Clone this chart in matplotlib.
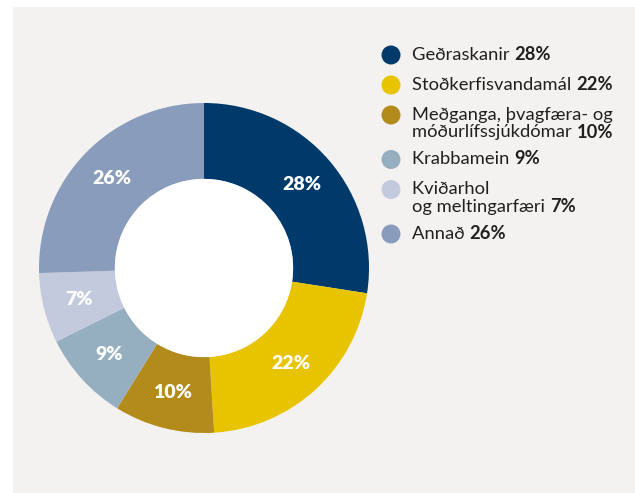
import matplotlib
matplotlib.use('Agg')
import numpy as np
import matplotlib.pyplot as plt
from matplotlib.patches import Rectangle, Circle, Ellipse

# gögn
flokkar = ['Geðraskanir', 'Stoðkerfisvandamál', 'Meðganga, þvagfæra- og\nmóðurlífssjúkdómar',
           'Krabbamein', 'Kviðarhol\nog meltingarfæri', 'Annað']
hlutfall = [28, 22, 10, 9, 7, 26]
litir = ['#003a6b', '#e8c400', '#b38b1a', '#95afc0', '#c3cadd', '#8a9cbc']

W, H = 635, 493
plt.rcParams['font.family'] = ['Lato', 'DejaVu Sans']

fig = plt.figure(figsize=(W / 100, H / 100), dpi=100)
fig.patch.set_facecolor('white')
# grár bakgrunnur
fig.patches.append(Rectangle((13 / W, 0), 1, 1 - 7 / H, transform=fig.transFigure,
                             facecolor='#f4f2f1', edgecolor='none', zorder=-5))

cx, cy, R = 204, 268, 165
ax = fig.add_axes([(cx - R) / W, (H - cy - R) / H, 2 * R / W, 2 * R / H])
ax.set_zorder(2)
wedges, _ = ax.pie(hlutfall, colors=litir, startangle=90, counterclock=False,
                   wedgeprops=dict(width=0.46, edgecolor='none'))
ax.add_patch(Circle((0, 0), 0.54, facecolor='white', edgecolor='none'))
ax.set_xlim(-1, 1)
ax.set_ylim(-1, 1)
ax.set_aspect('equal')
ax.axis('off')

for w, v in zip(wedges, hlutfall):
    ang = np.deg2rad((w.theta1 + w.theta2) / 2)
    ax.text(0.78 * np.cos(ang), 0.78 * np.sin(ang), f'{v}%', color='white',
            fontsize=14, fontweight='heavy', ha='center', va='center')

# skýringar
fig.canvas.draw()
renderer = fig.canvas.get_renderer()
y = 55
for nafn, v, c in zip(flokkar, hlutfall, litir):
    fig.add_artist(Ellipse((391 / W, 1 - y / H), 19 / W, 19 / H, transform=fig.transFigure,
                           facecolor=c, edgecolor='none', zorder=3))
    lines = nafn.split('\n')
    for i, line in enumerate(lines):
        yb = y + 5 + 17.5 * i
        t = fig.text(412 / W, 1 - yb / H, line + ' ', fontsize=13.2, color='#231f20',
                     va='baseline', ha='left')
        if i == len(lines) - 1:
            bb = t.get_window_extent(renderer)
            fig.text(bb.x1 / W, 1 - yb / H, f'{v}%', fontsize=13.2, fontweight='bold',
                     color='#231f20', va='baseline', ha='left')
    y += 30 + 14.5 * (len(lines) - 1)

fig.savefig('out.png', dpi=100)
